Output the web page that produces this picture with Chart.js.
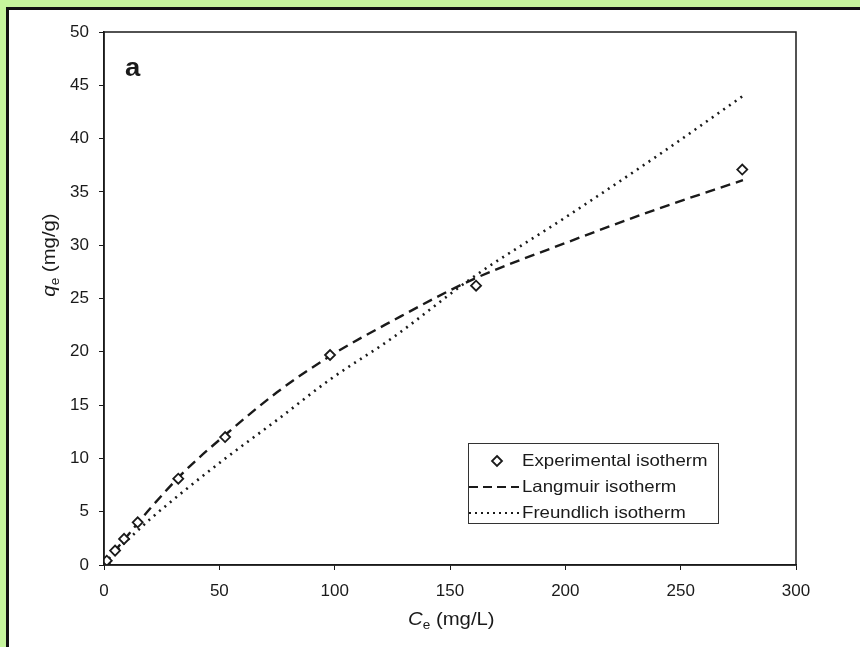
<!DOCTYPE html>
<html>
<head>
<meta charset="utf-8">
<script src="https://cdn.jsdelivr.net/npm/chart.js@4.4.1/dist/chart.umd.min.js"></script>
<style>
  html, body { margin: 0; padding: 0; background: #c6f59c; }
  #frame {
    position: absolute; left: 6px; top: 7px; width: 854px; height: 640px;
    background: #fff; border-left: 3px solid #111; border-top: 3px solid #111;
    box-sizing: border-box;
  }
  #wrap { position: absolute; left: 0; top: 0; width: 851px; height: 637px; }
</style>
</head>
<body>
<div id="frame"><div id="wrap"><canvas id="isoChart" width="851" height="637"></canvas></div></div>
<script>
// Experimental isotherm points (Ce in mg/L, qe in mg/g)
const expCe = [0.3, 1.2, 4.8, 8.7, 14.6, 32.2, 52.5, 98, 161.3, 276.7];
const expQe = [0.15, 0.4, 1.35, 2.45, 4.0, 8.1, 12.0, 19.7, 26.2, 37.1];

// Langmuir fit curve
const langCe = [0, 2, 5, 10, 20, 35, 52, 75, 98, 125, 160, 200, 240, 277];
const langQe = [0, 0.56, 1.38, 2.7, 5.3, 8.8, 12.1, 16.2, 19.6, 22.9, 26.8, 30.2, 33.4, 36.1];

// Freundlich fit curve
const freuCe = [0, 2, 5, 10, 20, 35, 52, 75, 98, 125, 160, 200, 240, 277];
const freuQe = [0, 0.55, 1.3, 2.3, 4.3, 7.0, 9.9, 13.6, 17.4, 21.3, 27.0, 32.6, 38.4, 44.0];

const xTicks = [0, 50, 100, 150, 200, 250, 300];
const yTicks = [0, 5, 10, 15, 20, 25, 30, 35, 40, 45, 50];

const legendLabels = ['Experimental isotherm', 'Langmuir isotherm', 'Freundlich isotherm'];

const toPts = (xs, ys) => xs.map((x, i) => ({ x: x, y: ys[i] }));

const FONT = '"Liberation Sans", Arial, sans-serif';
const INK = '#1a1a1a';
const STRETCH = 1.13; // the scanned text is a bit wider than plain Arial

// draws text slightly stretched sideways, returns the drawn width
function wideText(ctx, text, x, y, sx) {
    ctx.save();
    ctx.translate(x, y);
    ctx.scale(sx, 1);
    ctx.fillText(text, 0, 0);
    ctx.restore();
    return ctx.measureText(text).width * sx;
}

// frame, axis titles, panel letter and the boxed legend
const decorPlugin = {
    id: 'decor',
    afterDraw(chart) {
        const ctx = chart.ctx;
        const a = chart.chartArea;
        ctx.save();
        ctx.strokeStyle = INK;
        ctx.lineWidth = 1.5;
        ctx.strokeRect(a.left, a.top, a.right - a.left, a.bottom - a.top);

        // panel letter
        ctx.fillStyle = INK;
        ctx.font = 'bold 25px ' + FONT;
        ctx.textAlign = 'left';
        ctx.textBaseline = 'alphabetic';
        wideText(ctx, 'a', 116, 66, 1.1);

        // x title: Ce (mg/L)
        let x = 399, base = 615;
        ctx.font = 'italic 18px ' + FONT;
        x += wideText(ctx, 'C', x, base, STRETCH);
        ctx.font = '12px ' + FONT;
        x += wideText(ctx, 'e', x, base + 4, STRETCH);
        ctx.font = '18px ' + FONT;
        wideText(ctx, ' (mg/L)', x, base, STRETCH);

        // y title: qe (mg/g), rotated
        ctx.save();
        ctx.translate(46, 245);
        ctx.rotate(-Math.PI / 2);
        ctx.font = 'italic 18px ' + FONT;
        const wq = ctx.measureText('q').width * STRETCH;
        ctx.font = '12px ' + FONT;
        const we = ctx.measureText('e').width * STRETCH;
        ctx.font = '18px ' + FONT;
        const wr = ctx.measureText(' (mg/g)').width * STRETCH;
        let s = -(wq + we + wr) / 2;
        ctx.font = 'italic 18px ' + FONT;
        s += wideText(ctx, 'q', s, 0, STRETCH);
        ctx.font = '12px ' + FONT;
        s += wideText(ctx, 'e', s, 4, STRETCH);
        ctx.font = '18px ' + FONT;
        wideText(ctx, ' (mg/g)', s, 0, STRETCH);
        ctx.restore();

        // legend box
        const bx = 459, by = 433, bw = 250, bh = 80;
        ctx.fillStyle = '#fff';
        ctx.fillRect(bx, by, bw, bh);
        ctx.strokeStyle = '#333';
        ctx.lineWidth = 1;
        ctx.strokeRect(bx + 0.5, by + 0.5, bw, bh);
        ctx.fillStyle = INK;
        ctx.font = '16.5px ' + FONT;
        ctx.textBaseline = 'middle';
        const rows = [451, 477, 503];
        legendLabels.forEach((t, i) => wideText(ctx, t, 513, rows[i], STRETCH));

        // diamond sample
        ctx.beginPath();
        ctx.moveTo(488, rows[0] - 5);
        ctx.lineTo(493, rows[0]);
        ctx.lineTo(488, rows[0] + 5);
        ctx.lineTo(483, rows[0]);
        ctx.closePath();
        ctx.fillStyle = '#fff';
        ctx.fill();
        ctx.strokeStyle = INK;
        ctx.lineWidth = 1.8;
        ctx.stroke();

        // line samples
        ctx.lineWidth = 2.2;
        ctx.setLineDash([9, 5]);
        ctx.beginPath();
        ctx.moveTo(460, rows[1]);
        ctx.lineTo(510, rows[1]);
        ctx.stroke();
        ctx.setLineDash([2, 4]);
        ctx.beginPath();
        ctx.moveTo(460, rows[2]);
        ctx.lineTo(510, rows[2]);
        ctx.stroke();
        ctx.restore();
    }
};

const chartCanvas = document.getElementById('isoChart');

new Chart(chartCanvas, {
    type: 'scatter',
    data: {
        datasets: [
            {
                label: legendLabels[1],
                data: toPts(langCe, langQe),
                showLine: true,
                borderColor: INK,
                borderWidth: 2.4,
                borderDash: [10, 6],
                pointRadius: 0,
                cubicInterpolationMode: 'monotone',
                order: 2
            },
            {
                label: legendLabels[2],
                data: toPts(freuCe, freuQe),
                showLine: true,
                borderColor: INK,
                borderWidth: 2.6,
                borderDash: [2, 5],
                pointRadius: 0,
                cubicInterpolationMode: 'monotone',
                order: 3
            },
            {
                label: legendLabels[0],
                data: toPts(expCe, expQe),
                showLine: false,
                pointStyle: 'rectRot',
                pointRadius: 5,
                pointBorderWidth: 1.8,
                pointBackgroundColor: '#fff',
                pointBorderColor: INK,
                order: 1
            }
        ]
    },
    options: {
        responsive: false,
        animation: false,
        layout: { padding: { left: 0, top: 22, right: 64, bottom: 0 } },
        plugins: { legend: { display: false }, tooltip: { enabled: false } },
        scales: {
            x: {
                type: 'linear',
                min: 0, max: 300,
                afterBuildTicks: s => { s.ticks = xTicks.map(v => ({ value: v })); },
                afterFit: s => { s.height = 82; },
                grid: { drawOnChartArea: false, drawTicks: true, tickLength: 5, color: INK, tickWidth: 1 },
                border: { display: true, color: INK, width: 1.5 },
                ticks: { color: INK, font: { family: FONT, size: 17 }, padding: 11, maxRotation: 0 }
            },
            y: {
                type: 'linear',
                min: 0, max: 50,
                afterBuildTicks: s => { s.ticks = yTicks.map(v => ({ value: v })); },
                afterFit: s => { s.width = 95; },
                grid: { drawOnChartArea: false, drawTicks: true, tickLength: 5, color: INK, tickWidth: 1 },
                border: { display: true, color: INK, width: 1.5 },
                ticks: { color: INK, font: { family: FONT, size: 17 }, padding: 10 }
            }
        }
    },
    plugins: [decorPlugin]
});
</script>
</body>
</html>
